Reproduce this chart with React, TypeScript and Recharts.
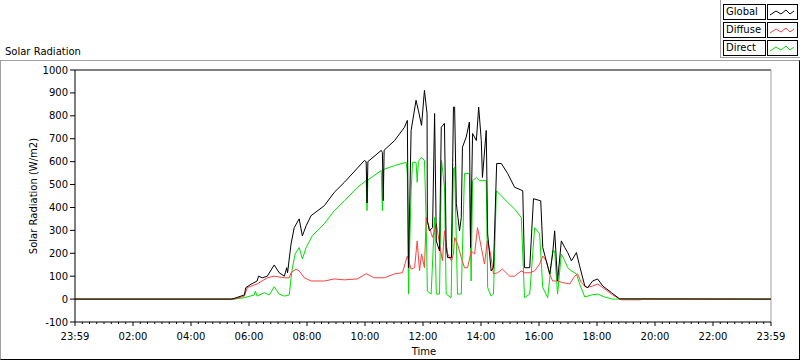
import React from 'react';
import { LineChart, Line, XAxis, YAxis, ReferenceLine } from 'recharts';

// [hour, W/m2]
const globalData: [number, number][] = [
  [0, 0], [5.39, 0], [5.49, 3], [5.84, 18], [5.89, 50], [6.07, 65], [6.28, 79], [6.33, 100], [6.46, 93],
  [6.63, 100], [6.87, 149], [7.04, 115], [7.22, 100], [7.3, 137], [7.33, 115], [7.45, 241], [7.56, 312],
  [7.73, 350], [7.84, 276], [7.97, 320], [8.14, 364], [8.6, 408], [8.94, 466], [9.29, 510], [9.98, 605],
  [10.04, 600], [10.07, 420], [10.1, 600], [10.56, 649], [10.6, 640], [10.63, 430], [10.66, 650],
  [11.02, 692], [11.36, 750], [11.46, 780], [11.5, 137], [11.59, 736], [11.76, 868], [11.84, 824],
  [11.95, 758], [12.05, 911], [12.14, 810], [12.15, 342], [12.22, 298], [12.33, 312], [12.4, 810],
  [12.46, 254], [12.57, 210], [12.63, 750], [12.74, 767], [12.8, 225], [12.85, 181], [12.98, 181],
  [13.05, 838], [13.09, 838], [13.15, 416], [13.26, 298], [13.32, 356], [13.36, 663], [13.49, 707],
  [13.6, 773], [13.64, 225], [13.71, 723], [13.84, 692], [13.92, 838], [14.01, 692], [14.05, 531],
  [14.18, 736], [14.23, 285], [14.35, 123], [14.43, 137], [14.54, 592], [14.7, 592], [14.92, 548],
  [15.16, 488], [15.44, 473], [15.5, 137], [15.68, 137], [15.81, 438], [16.06, 429], [16.13, 225],
  [16.25, 167], [16.37, 110], [16.47, 197], [16.54, 298], [16.64, 79], [16.77, 254], [16.89, 225],
  [16.99, 203], [17.12, 167], [17.29, 203], [17.4, 145], [17.58, 57], [17.68, 50], [17.85, 79],
  [18.02, 88], [18.2, 57], [18.5, 28], [18.78, 1], [24, 0],
];

const diffuseData: [number, number][] = [
  [0, 0], [5.49, 0], [5.84, 13], [5.94, 50], [6.28, 66], [6.63, 93], [6.87, 100], [7.22, 93], [7.39, 93],
  [7.45, 115], [7.62, 131], [7.73, 123], [7.91, 93], [8.14, 79], [8.6, 79], [8.94, 88], [9.29, 84],
  [9.74, 88], [10.04, 111], [10.32, 93], [10.67, 93], [11.02, 110], [11.29, 115], [11.46, 188],
  [11.59, 131], [11.71, 137], [11.8, 254], [11.88, 123], [11.95, 197], [12.05, 137], [12.11, 356],
  [12.22, 312], [12.33, 269], [12.46, 329], [12.57, 241], [12.67, 167], [12.74, 298], [12.85, 197],
  [12.98, 167], [13.05, 197], [13.09, 269], [13.19, 241], [13.32, 181], [13.43, 137], [13.54, 137],
  [13.66, 210], [13.78, 197], [13.88, 312], [14.01, 225], [14.12, 153], [14.22, 254], [14.33, 197],
  [14.43, 110], [14.57, 115], [14.74, 131], [14.99, 100], [15.16, 100], [15.39, 123], [15.5, 115],
  [15.68, 115], [15.85, 123], [16.02, 153], [16.13, 188], [16.25, 167], [16.37, 110], [16.47, 79],
  [16.64, 79], [16.82, 72], [17.06, 66], [17.23, 100], [17.33, 110], [17.46, 72], [17.63, 50],
  [17.85, 57], [18.02, 66], [18.27, 44], [18.54, 18], [18.78, 0], [18.85, -3], [19.5, -3], [19.55, 0],
  [24, 0],
];

const directData: [number, number][] = [
  [0, 0], [5.49, 0], [5.84, 6], [6.18, 18], [6.22, 35], [6.28, 13], [6.53, 28], [6.7, 18], [6.87, 54],
  [7.04, 22], [7.22, 13], [7.39, 18], [7.45, 93], [7.49, 131], [7.59, 197], [7.73, 225], [7.84, 175],
  [7.97, 225], [8.18, 276], [8.6, 329], [8.94, 386], [9.29, 429], [9.74, 488], [10.04, 517],
  [10.07, 386], [10.1, 520], [10.56, 561], [10.6, 386], [10.63, 565], [11.02, 583], [11.42, 597],
  [11.46, 548], [11.5, 22], [11.59, 473], [11.64, 597], [11.76, 597], [11.8, 510], [11.84, 600],
  [11.94, 619], [12.05, 605], [12.11, 342], [12.15, 35], [12.28, 22], [12.4, 356], [12.46, 22],
  [12.57, 22], [12.64, 605], [12.74, 488], [12.8, 22], [12.97, 6], [13.05, 570], [13.09, 575],
  [13.15, 254], [13.19, 22], [13.32, 22], [13.43, 548], [13.6, 548], [13.66, 79], [13.71, 517],
  [13.84, 531], [13.95, 517], [14.18, 517], [14.23, 50], [14.35, 13], [14.43, 22], [14.53, 473],
  [14.7, 451], [14.92, 422], [15.16, 393], [15.39, 356], [15.5, 6], [15.68, 22], [15.85, 312],
  [16.02, 285], [16.13, 50], [16.3, 6], [16.47, 210], [16.54, 210], [16.64, 22], [16.77, 197],
  [16.89, 167], [16.99, 137], [17.12, 123], [17.29, 110], [17.4, 66], [17.58, 9], [17.81, 18],
  [18.02, 22], [18.27, 9], [18.5, 1], [18.61, 0], [24, 0],
];

const majorHours = [0, 2, 4, 6, 8, 10, 12, 14, 16, 18, 20, 22, 24];
const timeLabels = ['23:59', '02:00', '04:00', '06:00', '08:00', '10:00', '12:00', '14:00', '16:00', '18:00', '20:00', '22:00', '23:59'];
const yTicks = [-100, 0, 100, 200, 300, 400, 500, 600, 700, 800, 900, 1000];

const xTicks: number[] = [];
for (let i = 0; i <= 96; i++) xTicks.push(i / 4);

const toRows = (d: [number, number][]) => d.map(([t, v]) => ({ t, v }));

const FONT = '"DejaVu Sans", Tahoma, sans-serif';

const TimeTick = (props: any) => {
  const { x, y, payload } = props;
  const idx = majorHours.indexOf(payload.value);
  const major = idx >= 0;
  return (
    <g>
      <line x1={x} x2={x} y1={y} y2={y + (major ? 4 : 2)} stroke="#000" />
      {major && (
        <text x={x} y={y + 18} textAnchor="middle" fontSize={10} fill="#000">
          {timeLabels[idx]}
        </text>
      )}
    </g>
  );
};

const Swatch = ({ color }: { color: string }) => (
  <svg width={28} height={13}>
    <polyline points="2,8 8,4 13,7 18,3 22,7 26,4" fill="none" stroke={color} strokeWidth={1} />
  </svg>
);

const legendItems = [
  { name: 'Global', color: '#000000' },
  { name: 'Diffuse', color: '#ff4040' },
  { name: 'Direct', color: '#00e000' },
];

export default function App() {
  return (
    <div style={{ position: 'absolute', left: 0, top: 0, width: 800, height: 361, background: '#fff', fontFamily: FONT }}>
      <div style={{ position: 'absolute', left: 0, top: 60, width: 798, height: 298, borderTop: '1px solid #a0a0a0', borderLeft: '1px solid #a0a0a0', borderRight: '1px solid #000', borderBottom: '1px solid #000' }} />
      <div style={{ position: 'absolute', left: 5, top: 46, fontSize: 10, color: '#000' }}>Solar Radiation</div>
      <div style={{ position: 'absolute', left: 720, top: 0, width: 80, height: 57, background: '#fff', borderLeft: '1px solid #a0a0a0', borderBottom: '1px solid #a0a0a0' }} />
      {legendItems.map((it, i) => (
        <React.Fragment key={it.name}>
          <div style={{ position: 'absolute', left: 723, top: 4 + i * 18, width: 39, height: 14, border: '1px solid #000', fontSize: 10, lineHeight: '14px', paddingLeft: 2, boxSizing: 'content-box', color: '#000', background: '#fff' }}>
            {it.name}
          </div>
          <div style={{ position: 'absolute', left: 767, top: 4 + i * 18, width: 29, height: 14, border: '1px solid #000', background: '#fff' }}>
            <Swatch color={it.color} />
          </div>
        </React.Fragment>
      ))}
      <div style={{ position: 'absolute', left: 0, top: 0 }}>
        <LineChart width={800} height={361} margin={{ top: 70, right: 29, bottom: 0, left: 0 }}>
          <XAxis
            type="number"
            dataKey="t"
            domain={[0, 24]}
            ticks={xTicks}
            interval={0}
            tick={<TimeTick />}
            tickSize={0}
            tickMargin={0}
            tickLine={false}
            height={39}
            stroke="#000"
            allowDuplicatedCategory={false}
            label={{
              content: () => (
                <text x={424} y={355} textAnchor="middle" fontSize={10} fill="#000">Time</text>
              ),
            }}
          />
          <YAxis
            type="number"
            domain={[-100, 1000]}
            ticks={yTicks}
            interval={0}
            width={75}
            stroke="#000"
            tickSize={5}
            tickMargin={2}
            tick={{ fill: '#000', fontSize: 10 }}
            label={{
              content: () => (
                <text x={37} y={196} transform="rotate(-90 37 196)" textAnchor="middle" fontSize={10} fill="#000">
                  Solar Radiation (W/m2)
                </text>
              ),
            }}
          />
          <ReferenceLine y={1000} stroke="#000" ifOverflow="visible" />
          <ReferenceLine x={24} stroke="#a0a0a0" ifOverflow="visible" />
          <Line data={toRows(directData)} dataKey="v" stroke="#00e000" strokeWidth={1} dot={false} type="linear" isAnimationActive={false} />
          <Line data={toRows(diffuseData)} dataKey="v" stroke="#ff4040" strokeWidth={1} dot={false} type="linear" isAnimationActive={false} />
          <Line data={toRows(globalData)} dataKey="v" stroke="#000000" strokeWidth={1} dot={false} type="linear" isAnimationActive={false} />
        </LineChart>
      </div>
    </div>
  );
}
